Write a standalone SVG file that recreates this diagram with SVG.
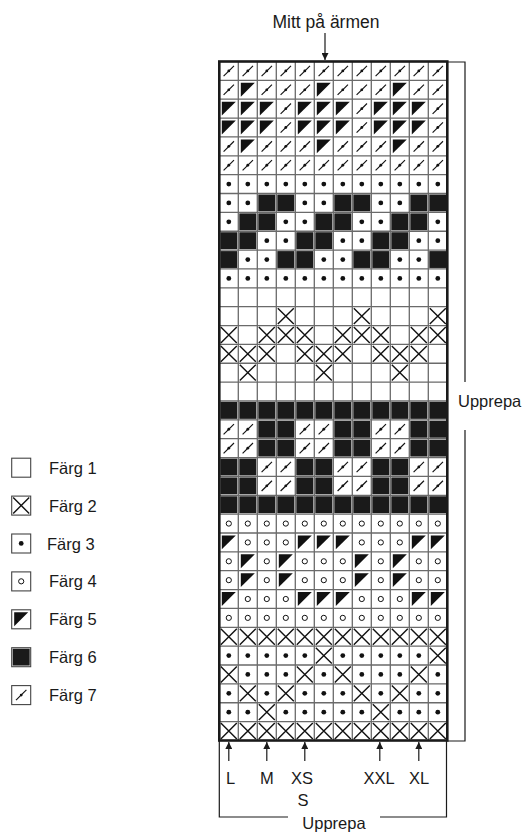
<svg xmlns="http://www.w3.org/2000/svg" xmlns:xlink="http://www.w3.org/1999/xlink" width="527" height="833" viewBox="0 0 527 833">
<style>
text{font-family:"Liberation Sans",Arial,sans-serif;font-size:16.5px;fill:#1a1a1a}
.ln{stroke:#1a1a1a;stroke-width:1.2;fill:none}
.gl{stroke:#6a6a6a;stroke-width:1.3}
.sym{stroke:#111;fill:none}
.lb{fill:#fff;stroke:#444;stroke-width:1.1}
</style>
<defs>
<g id="x"><path class="sym" stroke-width="1.4" d="M1.5,1.5L17.5,17.36M17.5,1.5L1.5,17.36"/></g>
<g id="d"><circle cx="9.5" cy="9.43" r="2.4" fill="#111"/></g>
<g id="o"><circle cx="9.5" cy="9.43" r="2.6" class="sym" stroke-width="1"/></g>
<g id="t"><polygon points="2.5,2.5 16.5,2.5 2.5,16.36" fill="#111"/></g>
<g id="b"><rect x="1" y="1" width="17" height="16.86" fill="#1a1a1a"/></g>
<g id="s"><line x1="4.3" y1="14.6" x2="14.7" y2="4.3" class="sym" stroke-width="1.15"/><circle cx="9.5" cy="9.43" r="1.4" fill="#111"/></g>
<marker id="ah" viewBox="0 0 10 10" refX="10" refY="5" markerWidth="8" markerHeight="7" markerUnits="userSpaceOnUse" orient="auto"><path d="M0,0L10,5L0,10z" fill="#1a1a1a"/></marker>
</defs>

<g id="chart">
<rect x="219.3" y="61.5" width="228" height="679" fill="#fff"/>
<g transform="translate(219.3,61.5)"><use href="#s" x="0"/><use href="#s" x="19"/><use href="#s" x="38"/><use href="#s" x="57"/><use href="#s" x="76"/><use href="#s" x="95"/><use href="#s" x="114"/><use href="#s" x="133"/><use href="#s" x="152"/><use href="#s" x="171"/><use href="#s" x="190"/><use href="#s" x="209"/></g>
<g transform="translate(219.3,80.36)"><use href="#s" x="0"/><use href="#t" x="19"/><use href="#s" x="38"/><use href="#s" x="57"/><use href="#s" x="76"/><use href="#t" x="95"/><use href="#s" x="114"/><use href="#s" x="133"/><use href="#s" x="152"/><use href="#t" x="171"/><use href="#s" x="190"/><use href="#s" x="209"/></g>
<g transform="translate(219.3,99.22)"><use href="#t" x="0"/><use href="#t" x="19"/><use href="#t" x="38"/><use href="#s" x="57"/><use href="#t" x="76"/><use href="#t" x="95"/><use href="#t" x="114"/><use href="#s" x="133"/><use href="#t" x="152"/><use href="#t" x="171"/><use href="#t" x="190"/><use href="#s" x="209"/></g>
<g transform="translate(219.3,118.08)"><use href="#t" x="0"/><use href="#t" x="19"/><use href="#t" x="38"/><use href="#s" x="57"/><use href="#t" x="76"/><use href="#t" x="95"/><use href="#t" x="114"/><use href="#s" x="133"/><use href="#t" x="152"/><use href="#t" x="171"/><use href="#t" x="190"/><use href="#s" x="209"/></g>
<g transform="translate(219.3,136.94)"><use href="#s" x="0"/><use href="#t" x="19"/><use href="#s" x="38"/><use href="#s" x="57"/><use href="#s" x="76"/><use href="#t" x="95"/><use href="#s" x="114"/><use href="#s" x="133"/><use href="#s" x="152"/><use href="#t" x="171"/><use href="#s" x="190"/><use href="#s" x="209"/></g>
<g transform="translate(219.3,155.8)"><use href="#s" x="0"/><use href="#s" x="19"/><use href="#s" x="38"/><use href="#s" x="57"/><use href="#s" x="76"/><use href="#s" x="95"/><use href="#s" x="114"/><use href="#s" x="133"/><use href="#s" x="152"/><use href="#s" x="171"/><use href="#s" x="190"/><use href="#s" x="209"/></g>
<g transform="translate(219.3,174.66)"><use href="#d" x="0"/><use href="#d" x="19"/><use href="#d" x="38"/><use href="#d" x="57"/><use href="#d" x="76"/><use href="#d" x="95"/><use href="#d" x="114"/><use href="#d" x="133"/><use href="#d" x="152"/><use href="#d" x="171"/><use href="#d" x="190"/><use href="#d" x="209"/></g>
<g transform="translate(219.3,193.52)"><use href="#d" x="0"/><use href="#d" x="19"/><use href="#b" x="38"/><use href="#b" x="57"/><use href="#d" x="76"/><use href="#d" x="95"/><use href="#b" x="114"/><use href="#b" x="133"/><use href="#d" x="152"/><use href="#d" x="171"/><use href="#b" x="190"/><use href="#b" x="209"/></g>
<g transform="translate(219.3,212.38)"><use href="#d" x="0"/><use href="#b" x="19"/><use href="#b" x="38"/><use href="#d" x="57"/><use href="#d" x="76"/><use href="#b" x="95"/><use href="#b" x="114"/><use href="#d" x="133"/><use href="#d" x="152"/><use href="#b" x="171"/><use href="#b" x="190"/><use href="#d" x="209"/></g>
<g transform="translate(219.3,231.24)"><use href="#b" x="0"/><use href="#b" x="19"/><use href="#d" x="38"/><use href="#d" x="57"/><use href="#b" x="76"/><use href="#b" x="95"/><use href="#d" x="114"/><use href="#d" x="133"/><use href="#b" x="152"/><use href="#b" x="171"/><use href="#d" x="190"/><use href="#d" x="209"/></g>
<g transform="translate(219.3,250.1)"><use href="#b" x="0"/><use href="#d" x="19"/><use href="#d" x="38"/><use href="#b" x="57"/><use href="#b" x="76"/><use href="#d" x="95"/><use href="#d" x="114"/><use href="#b" x="133"/><use href="#b" x="152"/><use href="#d" x="171"/><use href="#d" x="190"/><use href="#b" x="209"/></g>
<g transform="translate(219.3,268.96)"><use href="#d" x="0"/><use href="#d" x="19"/><use href="#d" x="38"/><use href="#d" x="57"/><use href="#d" x="76"/><use href="#d" x="95"/><use href="#d" x="114"/><use href="#d" x="133"/><use href="#d" x="152"/><use href="#d" x="171"/><use href="#d" x="190"/><use href="#d" x="209"/></g>
<g transform="translate(219.3,306.68)"><use href="#x" x="57"/><use href="#x" x="133"/><use href="#x" x="209"/></g>
<g transform="translate(219.3,325.54)"><use href="#x" x="0"/><use href="#x" x="38"/><use href="#x" x="57"/><use href="#x" x="76"/><use href="#x" x="114"/><use href="#x" x="133"/><use href="#x" x="152"/><use href="#x" x="190"/><use href="#x" x="209"/></g>
<g transform="translate(219.3,344.4)"><use href="#x" x="0"/><use href="#x" x="19"/><use href="#x" x="38"/><use href="#x" x="76"/><use href="#x" x="95"/><use href="#x" x="114"/><use href="#x" x="152"/><use href="#x" x="171"/><use href="#x" x="190"/></g>
<g transform="translate(219.3,363.26)"><use href="#x" x="19"/><use href="#x" x="95"/><use href="#x" x="171"/></g>
<g transform="translate(219.3,400.98)"><use href="#b" x="0"/><use href="#b" x="19"/><use href="#b" x="38"/><use href="#b" x="57"/><use href="#b" x="76"/><use href="#b" x="95"/><use href="#b" x="114"/><use href="#b" x="133"/><use href="#b" x="152"/><use href="#b" x="171"/><use href="#b" x="190"/><use href="#b" x="209"/></g>
<g transform="translate(219.3,419.84)"><use href="#s" x="0"/><use href="#s" x="19"/><use href="#b" x="38"/><use href="#b" x="57"/><use href="#s" x="76"/><use href="#s" x="95"/><use href="#b" x="114"/><use href="#b" x="133"/><use href="#s" x="152"/><use href="#s" x="171"/><use href="#b" x="190"/><use href="#b" x="209"/></g>
<g transform="translate(219.3,438.7)"><use href="#s" x="0"/><use href="#s" x="19"/><use href="#b" x="38"/><use href="#b" x="57"/><use href="#s" x="76"/><use href="#s" x="95"/><use href="#b" x="114"/><use href="#b" x="133"/><use href="#s" x="152"/><use href="#s" x="171"/><use href="#b" x="190"/><use href="#b" x="209"/></g>
<g transform="translate(219.3,457.56)"><use href="#b" x="0"/><use href="#b" x="19"/><use href="#s" x="38"/><use href="#s" x="57"/><use href="#b" x="76"/><use href="#b" x="95"/><use href="#s" x="114"/><use href="#s" x="133"/><use href="#b" x="152"/><use href="#b" x="171"/><use href="#s" x="190"/><use href="#s" x="209"/></g>
<g transform="translate(219.3,476.42)"><use href="#b" x="0"/><use href="#b" x="19"/><use href="#s" x="38"/><use href="#s" x="57"/><use href="#b" x="76"/><use href="#b" x="95"/><use href="#s" x="114"/><use href="#s" x="133"/><use href="#b" x="152"/><use href="#b" x="171"/><use href="#s" x="190"/><use href="#s" x="209"/></g>
<g transform="translate(219.3,495.28)"><use href="#b" x="0"/><use href="#b" x="19"/><use href="#b" x="38"/><use href="#b" x="57"/><use href="#b" x="76"/><use href="#b" x="95"/><use href="#b" x="114"/><use href="#b" x="133"/><use href="#b" x="152"/><use href="#b" x="171"/><use href="#b" x="190"/><use href="#b" x="209"/></g>
<g transform="translate(219.3,514.14)"><use href="#o" x="0"/><use href="#o" x="19"/><use href="#o" x="38"/><use href="#o" x="57"/><use href="#o" x="76"/><use href="#o" x="95"/><use href="#o" x="114"/><use href="#o" x="133"/><use href="#o" x="152"/><use href="#o" x="171"/><use href="#o" x="190"/><use href="#o" x="209"/></g>
<g transform="translate(219.3,533)"><use href="#t" x="0"/><use href="#o" x="19"/><use href="#o" x="38"/><use href="#o" x="57"/><use href="#t" x="76"/><use href="#t" x="95"/><use href="#t" x="114"/><use href="#o" x="133"/><use href="#o" x="152"/><use href="#o" x="171"/><use href="#t" x="190"/><use href="#t" x="209"/></g>
<g transform="translate(219.3,551.86)"><use href="#o" x="0"/><use href="#t" x="19"/><use href="#o" x="38"/><use href="#t" x="57"/><use href="#o" x="76"/><use href="#o" x="95"/><use href="#o" x="114"/><use href="#t" x="133"/><use href="#o" x="152"/><use href="#t" x="171"/><use href="#o" x="190"/><use href="#o" x="209"/></g>
<g transform="translate(219.3,570.72)"><use href="#o" x="0"/><use href="#t" x="19"/><use href="#o" x="38"/><use href="#t" x="57"/><use href="#o" x="76"/><use href="#o" x="95"/><use href="#o" x="114"/><use href="#t" x="133"/><use href="#o" x="152"/><use href="#t" x="171"/><use href="#o" x="190"/><use href="#o" x="209"/></g>
<g transform="translate(219.3,589.58)"><use href="#t" x="0"/><use href="#o" x="19"/><use href="#o" x="38"/><use href="#o" x="57"/><use href="#t" x="76"/><use href="#t" x="95"/><use href="#t" x="114"/><use href="#o" x="133"/><use href="#o" x="152"/><use href="#o" x="171"/><use href="#t" x="190"/><use href="#t" x="209"/></g>
<g transform="translate(219.3,608.44)"><use href="#o" x="0"/><use href="#o" x="19"/><use href="#o" x="38"/><use href="#o" x="57"/><use href="#o" x="76"/><use href="#o" x="95"/><use href="#o" x="114"/><use href="#o" x="133"/><use href="#o" x="152"/><use href="#o" x="171"/><use href="#o" x="190"/><use href="#o" x="209"/></g>
<g transform="translate(219.3,627.3)"><use href="#x" x="0"/><use href="#x" x="19"/><use href="#x" x="38"/><use href="#x" x="57"/><use href="#x" x="76"/><use href="#x" x="95"/><use href="#x" x="114"/><use href="#x" x="133"/><use href="#x" x="152"/><use href="#x" x="171"/><use href="#x" x="190"/><use href="#x" x="209"/></g>
<g transform="translate(219.3,646.16)"><use href="#d" x="0"/><use href="#d" x="19"/><use href="#d" x="38"/><use href="#d" x="57"/><use href="#d" x="76"/><use href="#x" x="95"/><use href="#d" x="114"/><use href="#d" x="133"/><use href="#d" x="152"/><use href="#d" x="171"/><use href="#d" x="190"/><use href="#x" x="209"/></g>
<g transform="translate(219.3,665.02)"><use href="#x" x="0"/><use href="#d" x="19"/><use href="#d" x="38"/><use href="#d" x="57"/><use href="#x" x="76"/><use href="#d" x="95"/><use href="#x" x="114"/><use href="#d" x="133"/><use href="#d" x="152"/><use href="#d" x="171"/><use href="#x" x="190"/><use href="#d" x="209"/></g>
<g transform="translate(219.3,683.88)"><use href="#d" x="0"/><use href="#x" x="19"/><use href="#d" x="38"/><use href="#x" x="57"/><use href="#d" x="76"/><use href="#d" x="95"/><use href="#d" x="114"/><use href="#x" x="133"/><use href="#d" x="152"/><use href="#x" x="171"/><use href="#d" x="190"/><use href="#d" x="209"/></g>
<g transform="translate(219.3,702.74)"><use href="#d" x="0"/><use href="#d" x="19"/><use href="#x" x="38"/><use href="#d" x="57"/><use href="#d" x="76"/><use href="#d" x="95"/><use href="#d" x="114"/><use href="#d" x="133"/><use href="#x" x="152"/><use href="#d" x="171"/><use href="#d" x="190"/><use href="#d" x="209"/></g>
<g transform="translate(219.3,721.6)"><use href="#x" x="0"/><use href="#x" x="19"/><use href="#x" x="38"/><use href="#x" x="57"/><use href="#x" x="76"/><use href="#x" x="95"/><use href="#x" x="114"/><use href="#x" x="133"/><use href="#x" x="152"/><use href="#x" x="171"/><use href="#x" x="190"/><use href="#x" x="209"/></g>
<path class="gl" d="M238.3,61.5V740.5M257.3,61.5V740.5M276.3,61.5V740.5M295.3,61.5V740.5M314.3,61.5V740.5M333.3,61.5V740.5M352.3,61.5V740.5M371.3,61.5V740.5M390.3,61.5V740.5M409.3,61.5V740.5M428.3,61.5V740.5"/>
<path class="gl" d="M219.3,80.36H447.3M219.3,99.22H447.3M219.3,118.08H447.3M219.3,136.94H447.3M219.3,155.8H447.3M219.3,174.66H447.3M219.3,193.52H447.3M219.3,212.38H447.3M219.3,231.24H447.3M219.3,250.1H447.3M219.3,268.96H447.3M219.3,287.82H447.3M219.3,306.68H447.3M219.3,325.54H447.3M219.3,344.4H447.3M219.3,363.26H447.3M219.3,382.12H447.3M219.3,400.98H447.3M219.3,419.84H447.3M219.3,438.7H447.3M219.3,457.56H447.3M219.3,476.42H447.3M219.3,495.28H447.3M219.3,514.14H447.3M219.3,533H447.3M219.3,551.86H447.3M219.3,570.72H447.3M219.3,589.58H447.3M219.3,608.44H447.3M219.3,627.3H447.3M219.3,646.16H447.3M219.3,665.02H447.3M219.3,683.88H447.3M219.3,702.74H447.3M219.3,721.6H447.3"/>
<rect x="219.3" y="61.5" width="228" height="679" fill="none" stroke="#1a1a1a" stroke-width="2.6"/>
</g>

<g id="connectors">
<line class="ln" x1="325" y1="33" x2="325" y2="60" marker-end="url(#ah)"/>
<line class="ln" x1="228.8" y1="761" x2="228.8" y2="742" marker-end="url(#ah)"/>
<line class="ln" x1="266.8" y1="761" x2="266.8" y2="742" marker-end="url(#ah)"/>
<line class="ln" x1="304.8" y1="761" x2="304.8" y2="742" marker-end="url(#ah)"/>
<line class="ln" x1="379.8" y1="761" x2="379.8" y2="742" marker-end="url(#ah)"/>
<line class="ln" x1="418.8" y1="761" x2="418.8" y2="742" marker-end="url(#ah)"/>
<path class="ln" d="M447.3,62H465V382M465,430V741H447.3"/>
<path class="ln" d="M219.3,741V817H288M380,817H446.5V741"/>
</g>

<g id="labels">
<text x="326" y="28" text-anchor="middle" style="font-size:17.5px">Mitt på ärmen</text>
<text x="458" y="407">Upprepa</text>
<text x="226" y="784">L</text>
<text x="266.8" y="784" text-anchor="middle">M</text>
<text x="302" y="784" text-anchor="middle">XS</text>
<text x="379" y="784" text-anchor="middle">XXL</text>
<text x="419" y="784" text-anchor="middle">XL</text>
<text x="303" y="806" text-anchor="middle">S</text>
<text x="334" y="829" text-anchor="middle">Upprepa</text>
</g>

<g id="legend">
<g id="leg1"><rect class="lb" x="11.7" y="458.2" width="19" height="19"/><text x="49" y="473.7">Färg 1</text></g>
<g id="leg2"><rect class="lb" x="11.7" y="496.1" width="19" height="19"/><use href="#x" x="11.7" y="496.1"/><text x="49" y="511.6">Färg 2</text></g>
<g id="leg3"><rect class="lb" x="11.7" y="534" width="19" height="19"/><use href="#d" x="11.7" y="534"/><text x="47" y="549.5">Färg 3</text></g>
<g id="leg4"><rect class="lb" x="11.7" y="571.9" width="19" height="19"/><use href="#o" x="11.7" y="571.9"/><text x="49" y="587.4">Färg 4</text></g>
<g id="leg5"><rect class="lb" x="11.7" y="609.8" width="19" height="19"/><use href="#t" x="11.7" y="609.8"/><text x="49" y="625.3">Färg 5</text></g>
<g id="leg6"><rect class="lb" x="11.7" y="647.7" width="19" height="19"/><use href="#b" x="11.7" y="647.7"/><text x="49" y="663.2">Färg 6</text></g>
<g id="leg7"><rect class="lb" x="11.7" y="685.6" width="19" height="19"/><use href="#s" x="11.7" y="685.6"/><text x="49" y="701.1">Färg 7</text></g>
</g>
</svg>
